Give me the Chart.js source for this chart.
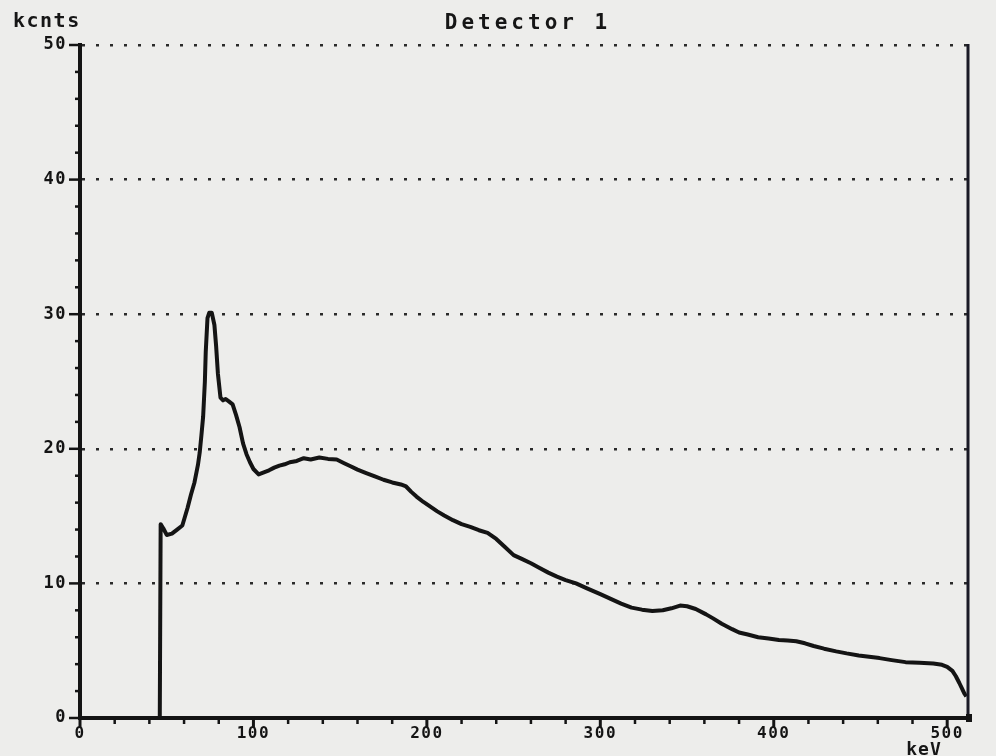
<!DOCTYPE html>
<html>
<head>
<meta charset="utf-8">
<script src="https://cdn.jsdelivr.net/npm/chart.js@4/dist/chart.umd.min.js"></script>
<style>
  html, body { margin: 0; padding: 0; background: #ededeb; }
  #wrap { width: 996px; height: 756px; }
</style>
</head>
<body>
<div id="wrap"><canvas id="c" width="996" height="756"></canvas></div>
<script>
// ---- data ----
const keV = [0, 46, 46.5, 48, 50, 53, 56, 59, 62, 64, 66, 68, 69, 70, 71, 72, 72.5, 73.5, 74.5, 76,
  77.5, 78.5, 79.5, 81, 82.5, 84, 86, 88, 90, 92, 94, 96, 98, 100, 103, 106, 109, 112, 115, 118,
  121, 125, 129, 133, 138, 143, 148, 152, 156, 160, 165, 170, 175, 180, 185, 188, 191, 194, 198, 202,
  206, 210, 215, 220, 225, 230, 235, 240, 245, 250, 255, 260, 265, 270, 275, 280, 286, 292, 300, 306,
  312, 318, 324, 330, 336, 341, 346, 350, 355, 361, 365, 370, 376, 380, 385, 391, 397, 403, 408, 413,
  418, 423, 429, 436, 442, 449, 455, 461, 468, 476, 484, 492, 497, 500, 503, 505, 507, 508.5, 510, 511];
const kcnts = [0, 0, 14.4, 14.1, 13.6, 13.7, 14.0, 14.3, 15.6, 16.6, 17.5, 18.8, 19.7, 21.0, 22.4, 25.0, 27.2, 29.7, 30.1, 30.1,
  29.2, 27.6, 25.6, 23.8, 23.6, 23.7, 23.5, 23.3, 22.5, 21.6, 20.4, 19.6, 19.0, 18.5, 18.1, 18.25, 18.4, 18.6, 18.75, 18.85,
  19.0, 19.1, 19.3, 19.2, 19.35, 19.25, 19.2, 18.95, 18.7, 18.45, 18.2, 17.95, 17.7, 17.5, 17.35, 17.2, 16.8, 16.45, 16.05, 15.7,
  15.35, 15.05, 14.7, 14.4, 14.2, 13.95, 13.75, 13.3, 12.7, 12.1, 11.8, 11.5, 11.15, 10.8, 10.5, 10.25, 10.0, 9.65, 9.2, 8.85,
  8.5, 8.2, 8.05, 7.95, 8.0, 8.15, 8.35, 8.3, 8.1, 7.7, 7.4, 7.0, 6.6, 6.35, 6.2, 6.0, 5.9, 5.8, 5.75, 5.7,
  5.55, 5.35, 5.15, 4.95, 4.8, 4.65, 4.55, 4.45, 4.3, 4.15, 4.1, 4.05, 3.95, 3.8, 3.5, 3.1, 2.6, 2.2, 1.8, 1.6];
const xTickValues = [0, 100, 200, 300, 400, 500];
const xMinorTickValues = [20, 40, 60, 80, 120, 140, 160, 180, 220, 240, 260, 280, 320, 340, 360, 380, 420, 440, 460, 480];
const yTickValues = [0, 10, 20, 30, 40, 50];
const yMinorTickValues = [2, 4, 6, 8, 12, 14, 16, 18, 22, 24, 26, 28, 32, 34, 36, 38, 42, 44, 46, 48];
const titleText = 'Detector 1';
const yUnitText = 'kcnts';
const xUnitText = 'keV';

const INK = '#141414';
const MONO = '"DejaVu Sans Mono", "Liberation Mono", monospace';

const decor = {
  id: 'decor',
  beforeDraw(chart) {
    const ctx = chart.ctx;
    ctx.save();
    ctx.fillStyle = '#ededeb';
    ctx.fillRect(0, 0, chart.width, chart.height);
    ctx.restore();
    ctx.letterSpacing = '1.5px';
  },
  beforeDatasetsDraw(chart) {
    chart.ctx.letterSpacing = '0px';
  },
  afterDraw(chart) {
    const ctx = chart.ctx;
    const { left, right, top, bottom } = chart.chartArea;
    const xs = chart.scales.x, ys = chart.scales.y;
    ctx.save();
    ctx.strokeStyle = INK;
    ctx.lineCap = 'butt';
    const seg = (x1, y1, x2, y2, w) => {
      ctx.lineWidth = w; ctx.beginPath(); ctx.moveTo(x1, y1); ctx.lineTo(x2, y2); ctx.stroke();
    };
    xTickValues.forEach(v => { const p = xs.getPixelForValue(v); seg(p, bottom, p, bottom + 9, 3); });
    xMinorTickValues.forEach(v => { const p = xs.getPixelForValue(v); seg(p, bottom, p, bottom + 6, 2.5); });
    yTickValues.forEach(v => { const p = ys.getPixelForValue(v); seg(left - 11, p, left, p, 2.5); });
    yMinorTickValues.forEach(v => { const p = ys.getPixelForValue(v); seg(left - 5, p, left, p, 2.5); });
    // right frame line
    ctx.strokeStyle = '#1a1a26';
    seg(right, top - 1, right, bottom + 2, 3);
    ctx.fillStyle = INK;
    ctx.fillRect(right - 2, bottom - 4, 6, 8);

    // texts
    ctx.fillStyle = '#161616';
    ctx.textBaseline = 'alphabetic';
    ctx.letterSpacing = '4px';
    ctx.font = 'bold 21px ' + MONO;
    ctx.textAlign = 'left';
    const tw = ctx.measureText(titleText).width - 4;
    ctx.fillText(titleText, 526 - tw / 2, 29);
    ctx.letterSpacing = '1.5px';
    ctx.font = 'bold 20px ' + MONO;
    ctx.fillText(yUnitText, 13, 27);
    ctx.letterSpacing = '1px';
    ctx.font = 'bold 18px ' + MONO;
    ctx.textAlign = 'center';
    ctx.fillText(xUnitText, 924, 755);
    ctx.restore();
  }
};

new Chart(document.getElementById('c'), {
  type: 'line',
  data: {
    datasets: [{
      data: keV.map((x, i) => ({ x: x, y: kcnts[i] })),
      borderColor: INK,
      borderWidth: 4,
      pointRadius: 0,
      tension: 0,
      fill: false,
      borderJoinStyle: 'round'
    }]
  },
  options: {
    responsive: false,
    animation: false,
    devicePixelRatio: 1,
    layout: { padding: { top: 45, right: 28, left: 0, bottom: 0 } },
    plugins: { legend: { display: false }, tooltip: { enabled: false }, title: { display: false } },
    scales: {
      x: {
        type: 'linear',
        min: 0, max: 512,
        afterBuildTicks: s => { s.ticks = xTickValues.map(v => ({ value: v })); },
        afterFit: s => { s.height = 38; },
        grid: { display: false, drawTicks: false },
        border: { display: true, width: 4, color: INK },
        ticks: {
          padding: 6, color: INK, maxRotation: 0, autoSkip: false,
          font: { family: MONO, size: 16, weight: 'bold' }
        }
      },
      y: {
        type: 'linear',
        min: 0, max: 50,
        afterBuildTicks: s => { s.ticks = yTickValues.map(v => ({ value: v })); },
        afterFit: s => { s.width = 80; },
        grid: { color: '#2a2a2a', lineWidth: 2.5, drawTicks: false },
        border: { display: true, width: 4, color: INK, dash: [3, 11] },
        ticks: {
          padding: 13, color: INK,
          font: { family: MONO, size: 17, weight: 'bold' }
        }
      }
    }
  },
  plugins: [decor]
});
</script>
</body>
</html>
